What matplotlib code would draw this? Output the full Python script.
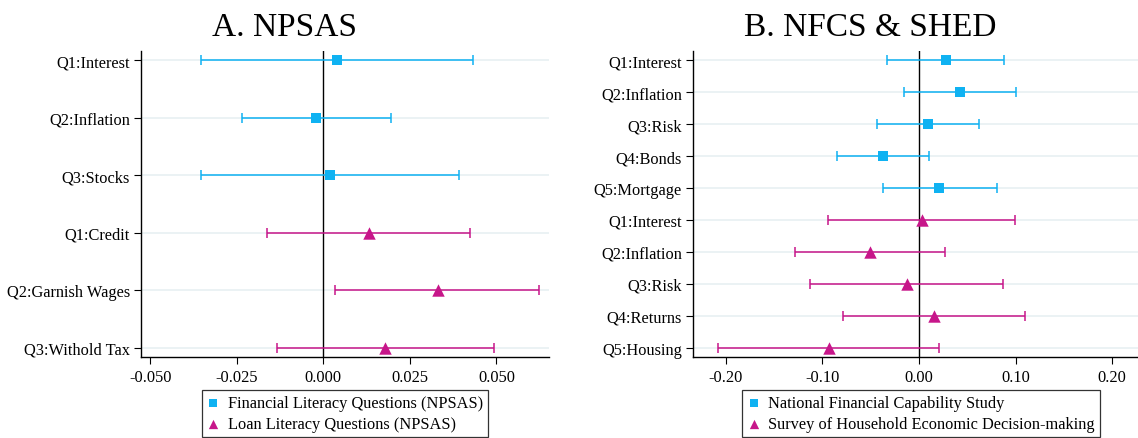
import numpy as np
import matplotlib.pyplot as plt
from matplotlib.ticker import FixedLocator, FormatStrFormatter

plt.rcParams['font.family'] = ['Liberation Serif', 'DejaVu Serif']
plt.rcParams['axes.unicode_minus'] = False

BLUE = '#0FB2F2'
PINK = '#C7168A'
GRID = '#E8F0F2'

# Panel A: NPSAS
npsas_fin_labels = ['Q1:Interest', 'Q2:Inflation', 'Q3:Stocks']
npsas_fin_coef = [0.0039, -0.0020, 0.0020]
npsas_fin_lo = [-0.0353, -0.0236, -0.0353]
npsas_fin_hi = [0.0432, 0.0196, 0.0393]

npsas_loan_labels = ['Q1:Credit', 'Q2:Garnish Wages', 'Q3:Withold Tax']
npsas_loan_coef = [0.0131, 0.0330, 0.0179]
npsas_loan_lo = [-0.0163, 0.0035, -0.0133]
npsas_loan_hi = [0.0425, 0.0624, 0.0493]

# Panel B: NFCS & SHED
nfcs_labels = ['Q1:Interest', 'Q2:Inflation', 'Q3:Risk', 'Q4:Bonds', 'Q5:Mortgage']
nfcs_coef = [0.0283, 0.0422, 0.0088, -0.0374, 0.0202]
nfcs_lo = [-0.0327, -0.0158, -0.0433, -0.0848, -0.0378]
nfcs_hi = [0.0884, 0.1005, 0.0617, 0.0106, 0.0804]

shed_labels = ['Q1:Interest', 'Q2:Inflation', 'Q3:Risk', 'Q4:Returns', 'Q5:Housing']
shed_coef = [0.0026, -0.0506, -0.0128, 0.0154, -0.0936]
shed_lo = [-0.0943, -0.1280, -0.1134, -0.0789, -0.2080]
shed_hi = [0.0994, 0.0268, 0.0873, 0.1097, 0.0206]

W, H = 1138, 439
fig = plt.figure(figsize=(W / 100, H / 100), dpi=100)


def panel(rect, top, bottom, top_name, bottom_name, xlim, xticks, fmt, pad):
    ax = fig.add_axes(rect)
    n1 = len(top[0])
    groups = [(top, 0, BLUE, 's', 58, top_name),
              (bottom, n1, PINK, '^', 80, bottom_name)]
    labels = []
    handles = []
    for (labs, coef, lo, hi), start, col, mk, size, name in groups:
        y = np.arange(start, start + len(labs))
        coef = np.array(coef)
        err = [coef - np.array(lo), np.array(hi) - coef]
        ax.errorbar(coef, y, xerr=err, fmt='none', ecolor=col, elinewidth=1.1,
                    capsize=3.4, capthick=1.1, zorder=3)
        h = ax.scatter(coef, y, marker=mk, s=size, color=col, zorder=4,
                       linewidths=0, label=name)
        handles.append(h)
        labels += labs
    n = len(labels)
    for yy in range(n):
        ax.axhline(yy, color=GRID, lw=1.2, zorder=1)
    ax.axvline(0, color='black', lw=1.0, zorder=2)
    ax.set_yticks(range(n))
    ax.set_yticklabels(labels, fontsize=11.8)
    ax.set_ylim(n - 1 + pad, -pad)
    ax.set_xlim(*xlim)
    ax.xaxis.set_major_locator(FixedLocator(xticks))
    ax.xaxis.set_major_formatter(FormatStrFormatter(fmt))
    ax.tick_params(axis='x', labelsize=11.8, length=5, width=0.8, pad=4)
    ax.tick_params(axis='y', length=5, width=0.8, pad=3)
    for s in ['top', 'right']:
        ax.spines[s].set_visible(False)
    for s in ['left', 'bottom']:
        ax.spines[s].set_linewidth(1.0)
    return ax, handles


ax1, h1 = panel([141 / W, 81 / H, 408 / W, 306 / H],
                (npsas_fin_labels, npsas_fin_coef, npsas_fin_lo, npsas_fin_hi),
                (npsas_loan_labels, npsas_loan_coef, npsas_loan_lo, npsas_loan_hi),
                'Financial Literacy Questions (NPSAS)',
                'Loan Literacy Questions (NPSAS)',
                (-0.0527, 0.0652), [-0.05, -0.025, 0.0, 0.025, 0.05], '%.3f', 0.16)

ax2, h2 = panel([693 / W, 81 / H, 456 / W, 306 / H],
                (nfcs_labels, nfcs_coef, nfcs_lo, nfcs_hi),
                (shed_labels, shed_coef, shed_lo, shed_hi),
                'National Financial Capability Study',
                'Survey of Household Economic Decision-making',
                (-0.234, 0.238), [-0.2, -0.1, 0.0, 0.1, 0.2], '%.2f', 0.29)

fig.text(285 / W, 1 - 36 / H, 'A. NPSAS', fontsize=24, ha='center', va='baseline')
fig.text(870 / W, 1 - 36 / H, 'B. NFCS & SHED', fontsize=24, ha='center', va='baseline')

for handles, cx in [(h1, 345), (h2, 921)]:
    leg = fig.legend(handles=handles, loc='upper center',
                     bbox_to_anchor=(cx / W, 1 - 391 / H), fontsize=11.8,
                     frameon=True, fancybox=False, edgecolor='black',
                     handlelength=0.8, handletextpad=0.5, borderpad=0.3,
                     labelspacing=0.3, markerscale=0.75, borderaxespad=0)
    leg.get_frame().set_linewidth(0.9)

fig.savefig('out.png', dpi=100)
